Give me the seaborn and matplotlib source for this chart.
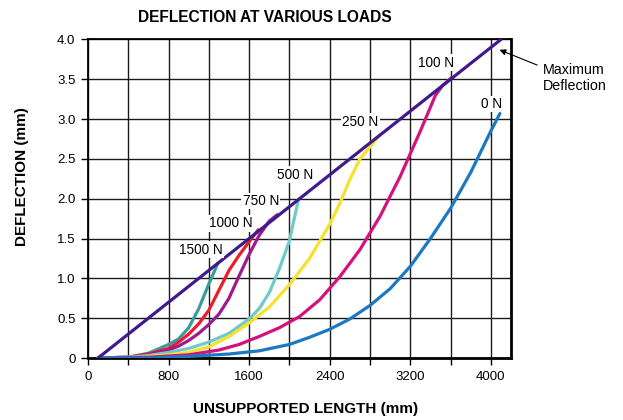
import pandas as pd
import matplotlib
matplotlib.use('Agg')
import matplotlib.pyplot as plt
import seaborn as sns

# deflection curves (length in mm, deflection in mm)
max_x = [100, 4100]
max_y = [0.0, 4.0]

x_1500 = [100, 400, 600, 800, 900, 1000, 1100, 1200, 1290]
y_1500 = [0.0, 0.01, 0.06, 0.17, 0.24, 0.38, 0.62, 0.93, 1.19]

x_1000 = [100, 400, 600, 800, 900, 1000, 1100, 1200, 1300, 1400, 1500, 1600, 1690]
y_1000 = [0.0, 0.01, 0.05, 0.12, 0.20, 0.30, 0.43, 0.60, 0.85, 1.10, 1.29, 1.46, 1.61]

x_750 = [100, 400, 600, 800, 900, 1000, 1100, 1200, 1300, 1400, 1500, 1600, 1700, 1800, 1880]
y_750 = [0.0, 0.01, 0.04, 0.10, 0.15, 0.22, 0.31, 0.42, 0.55, 0.75, 1.03, 1.30, 1.54, 1.72, 1.80]

x_500 = [100, 400, 600, 800, 1000, 1200, 1400, 1600, 1700, 1800, 1900, 2000, 2060, 2090]
y_500 = [0.0, 0.01, 0.03, 0.07, 0.12, 0.20, 0.31, 0.49, 0.62, 0.82, 1.12, 1.47, 1.82, 1.99]

x_250 = [100, 500, 800, 1000, 1200, 1400, 1600, 1800, 2000, 2200, 2400, 2500, 2600, 2700, 2800, 2890]
y_250 = [0.0, 0.01, 0.04, 0.07, 0.14, 0.27, 0.44, 0.64, 0.92, 1.25, 1.68, 1.94, 2.24, 2.50, 2.65, 2.79]

x_100 = [100, 600, 1000, 1300, 1500, 1700, 1900, 2100, 2300, 2500, 2700, 2900, 3100, 3300, 3450, 3520, 3610]
y_100 = [0.0, 0.01, 0.04, 0.10, 0.17, 0.27, 0.38, 0.52, 0.73, 1.02, 1.36, 1.78, 2.28, 2.85, 3.30, 3.42, 3.52]

x_0 = [100, 600, 1000, 1400, 1700, 2000, 2200, 2400, 2600, 2800, 3000, 3200, 3400, 3600, 3800, 4000, 4090]
y_0 = [0.0, 0.0, 0.02, 0.05, 0.09, 0.17, 0.26, 0.36, 0.49, 0.66, 0.87, 1.15, 1.50, 1.88, 2.33, 2.85, 3.07]

loads = ['1500 N', '1000 N', '750 N', '500 N', '250 N', '100 N', '0 N']
curves_x = [x_1500, x_1000, x_750, x_500, x_250, x_100, x_0]
curves_y = [y_1500, y_1000, y_750, y_500, y_250, y_100, y_0]
colors = ['#3a9d9a', '#ec1c2c', '#9c1b8e', '#6fcaca', '#f6e12e', '#d3127f', '#1b79c1']

# label anchor points (data coords) for the load names
label_x = [1123, 1419, 1715, 2054, 2703, 3460, 4010]
label_y = [1.36, 1.69, 1.97, 2.30, 2.97, 3.71, 3.19]

x_ticks = list(range(0, 4001, 400))
x_ticklabels = [str(v) if v % 800 == 0 else '' for v in x_ticks]
y_ticks = [0, 0.5, 1.0, 1.5, 2.0, 2.5, 3.0, 3.5, 4.0]
y_ticklabels = ['0', '0.5', '1.0', '1.5', '2.0', '2.5', '3.0', '3.5', '4.0']

sns.set_style('white')
plt.rcParams['font.family'] = ['Liberation Sans', 'DejaVu Sans']
plt.rcParams['text.color'] = 'black'
plt.rcParams['xtick.color'] = 'black'
plt.rcParams['ytick.color'] = 'black'

rows = []
for name, xs, ys in zip(loads, curves_x, curves_y):
    for a, b in zip(xs, ys):
        rows.append({'load': name, 'length': a, 'deflection': b})
df = pd.DataFrame(rows)

fig = plt.figure(figsize=(6.23, 4.2), dpi=100)
ax = fig.add_axes([0.1412, 0.1476, 0.6790, 0.7584])

sns.lineplot(data=df, x='length', y='deflection', hue='load', hue_order=loads,
             palette=dict(zip(loads, colors)), estimator=None, sort=False,
             linewidth=2.3, legend=False, ax=ax, zorder=3)
sns.lineplot(x=max_x, y=max_y, color='#401b8b', linewidth=2.3, ax=ax, zorder=4)

ax.set_xlim(0, 4200)
ax.set_ylim(0, 4.0)
ax.set_xticks(x_ticks)
ax.set_xticklabels(x_ticklabels)
ax.set_yticks(y_ticks)
ax.set_yticklabels(y_ticklabels)
ax.tick_params(direction='out', length=5, width=1, color='black', labelsize=9.5,
               bottom=True, left=True, pad=4)
ax.grid(True, color='#1a1a1a', linewidth=1.0)
ax.set_axisbelow(True)
ax.set_xlabel('')
ax.set_ylabel('')
for side in ['left', 'top']:
    ax.spines[side].set_linewidth(1.3)
    ax.spines[side].set_color('black')
for side in ['right', 'bottom']:
    ax.spines[side].set_linewidth(2.0)
    ax.spines[side].set_color('black')

for name, lx, ly in zip(loads, label_x, label_y):
    ax.text(lx, ly, name, fontsize=9.8, ha='center', va='center', zorder=5,
            bbox=dict(facecolor='white', edgecolor='none', pad=1.0))

ax.annotate('Maximum\nDeflection', xy=(4086, 3.87), xycoords='data',
            xytext=(543 / 623, 342 / 420), textcoords='figure fraction',
            ha='left', va='center', fontsize=10.3, annotation_clip=False,
            arrowprops=dict(arrowstyle='-|>', color='black', lw=0.8,
                            shrinkA=2, shrinkB=0, relpos=(0, 0.85),
                            mutation_scale=9))

fig.text(265 / 623, 1 - 18 / 420, 'DEFLECTION AT VARIOUS LOADS', fontsize=11.2,
         fontweight='bold', ha='center', va='center')
fig.text(306 / 623, 1 - 409 / 420, 'UNSUPPORTED LENGTH (mm)', fontsize=11,
         fontweight='bold', ha='center', va='center')
fig.text(22 / 623, 1 - 177 / 420, 'DEFLECTION (mm)', fontsize=11, rotation=90,
         fontweight='bold', ha='center', va='center')

fig.savefig('out.png', dpi=100)
